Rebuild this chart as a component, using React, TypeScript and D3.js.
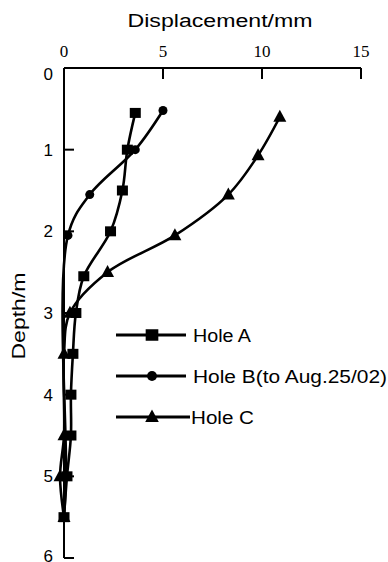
import { useEffect, useRef } from 'react';
import * as d3 from 'd3';

// Depth (m) at which each reading was taken, and displacement (mm)
const depthA = [0.55, 1.0, 1.5, 2.0, 2.55, 3.0, 3.5, 4.0, 4.5, 5.0, 5.5];
const holeA = [3.6, 3.2, 2.95, 2.35, 1.0, 0.6, 0.45, 0.35, 0.35, 0.15, 0.0];

const depthB = [0.52, 1.0, 1.55, 2.05, 5.0, 5.5];
const holeB = [5.0, 3.6, 1.3, 0.2, 0.1, 0.0];

const depthC = [0.6, 1.07, 1.55, 2.05, 2.5, 3.0, 3.5, 4.5, 5.0, 5.5];
const holeC = [10.9, 9.8, 8.3, 5.6, 2.2, 0.3, 0.0, 0.0, -0.2, 0.0];

const xTicks = [0, 5, 10, 15];
const yTicks = [0, 1, 2, 3, 4, 5, 6];

const legendLabels = ['Hole A', 'Hole B(to Aug.25/02)', 'Hole C'];
const legendWidths = [58, 194, 63];

const sans = 'Arial, "Liberation Sans", sans-serif';
const serif = '"Times New Roman", "Liberation Serif", serif';

type Shape = 'square' | 'circle' | 'triangle';

function drawMarker(
  g: d3.Selection<SVGGElement, unknown, null, undefined>,
  shape: Shape,
  cx: number,
  cy: number,
  big = 1
) {
  if (shape === 'square') {
    const w = 11 * big;
    const h = 10 * big;
    g.append('rect')
      .attr('x', cx - w / 2)
      .attr('y', cy - h / 2)
      .attr('width', w)
      .attr('height', h)
      .attr('fill', '#000');
  } else if (shape === 'circle') {
    g.append('circle').attr('cx', cx).attr('cy', cy).attr('r', 4.5 * big).attr('fill', '#000');
  } else {
    const w = 13 * big;
    const h = 12 * big;
    g.append('path')
      .attr('d', `M${cx},${cy - h * 0.6}L${cx + w / 2},${cy + h * 0.4}L${cx - w / 2},${cy + h * 0.4}Z`)
      .attr('fill', '#000');
  }
}

export default function App() {
  const svgRef = useRef<SVGSVGElement>(null);

  useEffect(() => {
    if (!svgRef.current) return;
    const width = 388;
    const height = 562;

    const svg = d3.select(svgRef.current);
    svg.selectAll('*').remove();
    svg.attr('width', width).attr('height', height);

    const x = d3.scaleLinear().domain([0, 15]).range([64, 361]);
    const y = d3.scaleLinear().domain([0, 6]).range([68, 558]);

    const g = svg.append('g');

    // Axes
    g.append('line')
      .attr('x1', x(0)).attr('x2', x(15))
      .attr('y1', y(0)).attr('y2', y(0))
      .attr('stroke', '#000').attr('stroke-width', 2);
    g.append('line')
      .attr('x1', x(0)).attr('x2', x(0))
      .attr('y1', y(0)).attr('y2', y(6))
      .attr('stroke', '#000').attr('stroke-width', 2);

    xTicks.forEach((t) => {
      if (t > 0) {
        g.append('line')
          .attr('x1', x(t)).attr('x2', x(t))
          .attr('y1', y(0)).attr('y2', y(0) + 11)
          .attr('stroke', '#000').attr('stroke-width', 2);
      }
      g.append('text')
        .attr('x', x(t))
        .attr('y', 57)
        .attr('text-anchor', 'middle')
        .attr('font-family', serif)
        .attr('font-size', 17)
        .text(String(t));
    });

    yTicks.forEach((t) => {
      if (t > 0) {
        g.append('line')
          .attr('x1', x(0)).attr('x2', x(0) + 10)
          .attr('y1', y(t)).attr('y2', y(t))
          .attr('stroke', '#000').attr('stroke-width', 2);
      }
      g.append('text')
        .attr('x', 53)
        .attr('y', y(t) + (t === 0 ? 6 : t === 6 ? -2 : 0))
        .attr('dy', '0.36em')
        .attr('text-anchor', 'end')
        .attr('font-family', sans)
        .attr('font-size', 17)
        .text(String(t));
    });

    // Axis titles
    g.append('text')
      .attr('x', 220)
      .attr('y', 27)
      .attr('text-anchor', 'middle')
      .attr('font-family', sans)
      .attr('font-size', 18)
      .attr('textLength', 185)
      .attr('lengthAdjust', 'spacingAndGlyphs')
      .text('Displacement/mm');

    g.append('text')
      .attr('transform', 'translate(25,316) rotate(-90)')
      .attr('text-anchor', 'middle')
      .attr('font-family', sans)
      .attr('font-size', 18)
      .attr('textLength', 87)
      .attr('lengthAdjust', 'spacingAndGlyphs')
      .text('Depth/m');

    // Series
    const series: { depth: number[]; vals: number[]; shape: Shape }[] = [
      { depth: depthA, vals: holeA, shape: 'square' },
      { depth: depthB, vals: holeB, shape: 'circle' },
      { depth: depthC, vals: holeC, shape: 'triangle' },
    ];

    const line = d3
      .line<[number, number]>()
      .x((d) => x(d[0]))
      .y((d) => y(d[1]))
      .curve(d3.curveCatmullRom.alpha(0.5));

    series.forEach((s) => {
      const pts: [number, number][] = s.vals.map((v, i) => [v, s.depth[i]]);
      g.append('path')
        .attr('d', line(pts) || '')
        .attr('fill', 'none')
        .attr('stroke', '#000')
        .attr('stroke-width', 2.6);
    });
    series.forEach((s) => {
      s.vals.forEach((v, i) => drawMarker(g, s.shape, x(v), y(s.depth[i])));
    });

    // Legend
    const legendY = [335, 376, 417];
    const shapes: Shape[] = ['square', 'circle', 'triangle'];
    legendLabels.forEach((label, i) => {
      const ly = legendY[i];
      const x2 = i === 2 ? 190 : 186;
      g.append('line')
        .attr('x1', 116).attr('x2', x2)
        .attr('y1', ly).attr('y2', ly)
        .attr('stroke', '#000').attr('stroke-width', 3);
      drawMarker(g, shapes[i], 152, ly, i === 0 ? 1.15 : i === 2 ? 1.05 : 1.1);
      g.append('text')
        .attr('x', i === 2 ? 191 : 193)
        .attr('y', ly + 7)
        .attr('font-family', sans)
        .attr('font-size', 18)
        .attr('textLength', legendWidths[i])
        .attr('lengthAdjust', 'spacingAndGlyphs')
        .text(label);
    });
  }, []);

  return (
    <div style={{ position: 'absolute', left: 0, top: 0, background: '#fff' }}>
      <svg ref={svgRef} style={{ display: 'block' }} />
    </div>
  );
}
